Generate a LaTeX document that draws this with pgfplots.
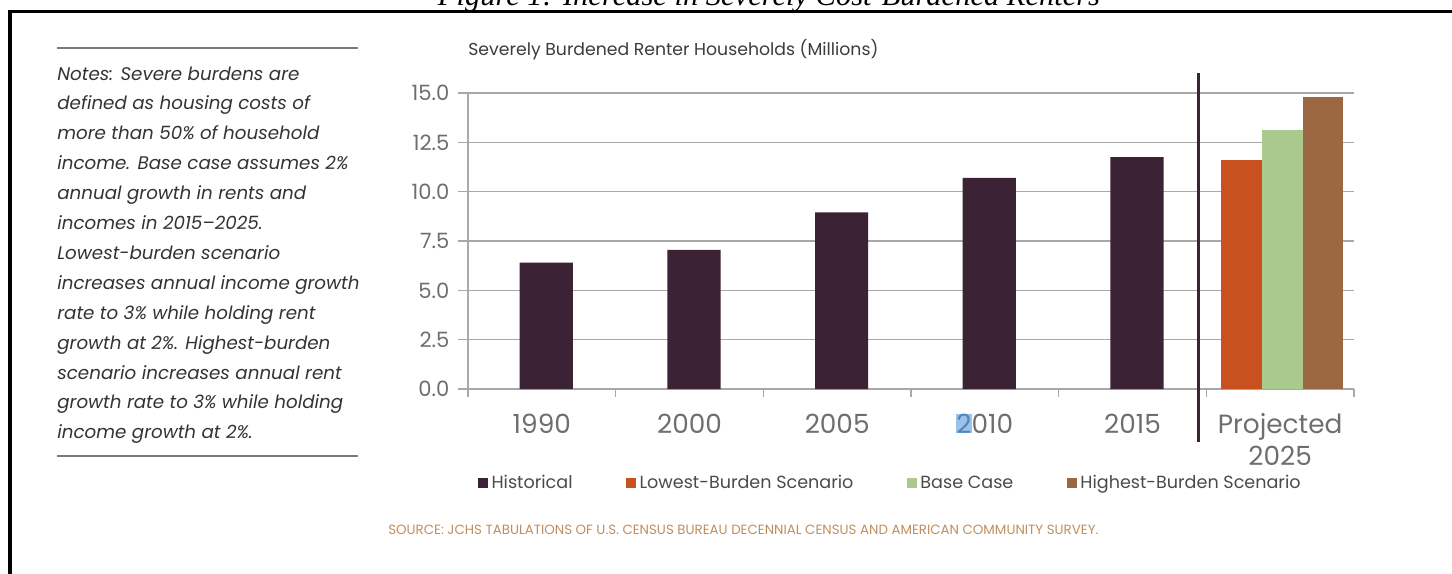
\documentclass[border=0pt]{standalone}
\usepackage{pgfplots}
\pgfplotsset{compat=1.18}
\usepackage{fontspec}
\setmainfont{Poppins}
\newfontfamily\serifit{Liberation Serif}
\definecolor{hist}{HTML}{3B2335}
\definecolor{low}{HTML}{C9501F}
\definecolor{base}{HTML}{A9C98D}
\definecolor{high}{HTML}{9B6843}
\definecolor{tickgray}{HTML}{6E6E6E}
\definecolor{gridgray}{HTML}{A8A8A8}
\definecolor{notegray}{HTML}{333333}
\definecolor{rulegray}{HTML}{7A7A7A}
\definecolor{headgray}{HTML}{3C3C3C}
\definecolor{legendgray}{HTML}{4A4A4A}
\definecolor{srccolor}{HTML}{C08E5E}
\definecolor{hlblue}{HTML}{9CC3E5}
\definecolor{hltext}{HTML}{4F86C0}
\newcommand{\hltwo}{{\setlength{\fboxsep}{0pt}\colorbox{hlblue}{\textcolor{hltext}{2}}}}
\begin{document}
\begin{tikzpicture}
\useasboundingbox (0,0) rectangle (29.04,-11.46);
\clip (0,0) rectangle (29.04,-11.46);
% cut-off figure title (cut off in the reference too)
\node[anchor=base, inner sep=0] at (15.38,-0.12) {\serifit\itshape\resizebox{13.24cm}{!}{Figure 1: Increase in Severely Cost-Burdened Renters}};
% page frame
\draw[line width=0.07cm] (0.2,-11.6) -- (0.2,-0.23) -- (29.2,-0.23);
% notes
\draw[rulegray, line width=0.04cm] (1.14,-0.96) -- (7.16,-0.96);
\draw[rulegray, line width=0.04cm] (1.14,-9.12) -- (7.16,-9.12);
\foreach \t [count=\i] in {Notes: Severe burdens are, defined as housing costs of, more than 50\% of household, income. Base case assumes 2\%, annual growth in rents and, incomes in 2015--2025., Lowest-burden scenario, increases annual income growth, rate to 3\% while holding rent, growth at 2\%. Highest-burden, scenario increases annual rent, growth rate to 3\% while holding, income growth at 2\%.}{
  \node[anchor=base west, inner sep=0, text=notegray, font=\fontsize{10.4}{12.5}\selectfont\itshape] at (1.14,{-1.6-0.598*(\i-1)}) {\t};
}
% chart heading
\node[anchor=base west, inner sep=0, text=headgray] at (9.36,-1.1) {\resizebox{8.2cm}{!}{Severely Burdened Renter Households (Millions)}};
% source
\node[anchor=base west, inner sep=0, text=srccolor] at (7.76,-10.68) {\resizebox{14.2cm}{!}{SOURCE: JCHS TABULATIONS OF U.S. CENSUS BUREAU DECENNIAL CENSUS AND AMERICAN COMMUNITY SURVEY.}};
\begin{axis}[
  at={(9.36cm,-7.78cm)}, anchor=south west,
  scale only axis, width=17.72cm, height=5.92cm,
  xmin=-0.5, xmax=5.5, ymin=0, ymax=15,
  axis x line*=bottom, axis y line*=left,
  axis line style={gridgray, line width=0.6pt, -},
  ytick={0,2.5,5,7.5,10,12.5,15},
  ymajorgrids, grid style={gridgray, line width=0.6pt},
  tick align=outside, major tick length=0.2cm,
  ytick style={gridgray, line width=0.6pt},
  xtick={0,1,2,3,4,5},
  xticklabels={1990,2000,2005,{\hltwo010},2015,{Projected\\2025}},
  major x tick style={draw=none},
  minor xtick={-0.5,0.5,1.5,2.5,3.5,4.5,5.5},
  minor tick length=0.16cm,
  minor x tick style={gridgray, line width=0.6pt},
  /pgf/number format/assume math mode=true,
  yticklabel style={/pgf/number format/fixed, /pgf/number format/fixed zerofill, /pgf/number format/precision=1},
  yticklabel style={font=\fontsize{12}{14}\selectfont, text=tickgray, xshift=-0.05cm},
  xticklabel style={font=\fontsize{15}{18.2}\selectfont, text=tickgray, align=center, yshift=-0.17cm},
  clip=false,
  legend columns=4,
  legend style={at={(0.0113,-0.318)}, anchor=west, draw=none, fill=none, inner sep=0pt, outer sep=0pt,
    font=\fontsize{10}{12}\selectfont, text=legendgray,
    /tikz/every even column/.append style={column sep=1.0cm}},
  legend image code/.code={\fill[#1] (0cm,-0.1cm) rectangle (0.2cm,0.1cm);},
]
\addplot[ybar, bar width=0.36, bar shift=0.03, fill=hist, draw=none] coordinates {(0,6.4) (1,7.05) (2,8.95) (3,10.7) (4,11.75)};
\addlegendentry{Historical}
\addplot[ybar, bar width=0.275, bar shift=-0.26, fill=low, draw=none] coordinates {(5,11.6)};
\addlegendentry{Lowest-Burden Scenario}
\addplot[ybar, bar width=0.275, bar shift=0.015, fill=base, draw=none] coordinates {(5,13.1)};
\addlegendentry{Base Case}
\addplot[ybar, bar width=0.275, bar shift=0.29, fill=high, draw=none] coordinates {(5,14.8)};
\addlegendentry{Highest-Burden Scenario}
\draw[hist, line width=0.06cm] (axis cs:4.45,16.0) -- (axis cs:4.45,-2.69);
\end{axis}
\end{tikzpicture}
\end{document}
